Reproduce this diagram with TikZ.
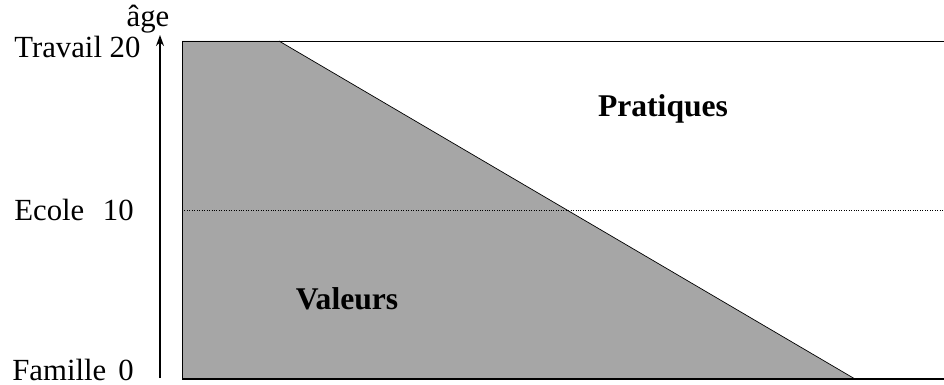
\documentclass[tikz,border=0pt]{standalone}
\usepackage{fontspec}
\setmainfont{Liberation Serif}
\usetikzlibrary{arrows.meta,positioning}
\definecolor{valgray}{HTML}{A6A6A6}

\begin{document}
\begin{tikzpicture}[
    x=0.02cm, y=-0.02cm,
    lbl/.style={inner sep=0pt, font=\fontsize{17.5}{20}\selectfont},
    zone/.style={inner sep=0pt, font=\fontsize{18}{20}\selectfont\bfseries},
    arr/.style={-{Stealth[length=2.2mm, width=1.6mm]}, thick}
  ]
    \useasboundingbox (0,0) rectangle (944,385);
    % zone grise
    \fill[valgray] (182,41) -- (279,41) -- (855,379) -- (182,379) -- cycle;
    \draw (182,379) -- (182,41) -- (944,41);
    \draw (279,41) -- (855,379);
    \draw[thick] (182,379) -- (944,379);
    \draw[densely dotted] (182,210) -- (944,210);
    % axe
    \coordinate (bas) at (160,378);
    \coordinate (haut) at (160,35);
    \draw[arr] (bas) -- (haut);
    \node[lbl, anchor=base] (age) at (148,27) {âge};
    % etiquettes
    \node[lbl, anchor=base west] (travail) at (14,58) {Travail 20};
    \node[lbl, anchor=base west] (ecole) at (14,220) {Ecole};
    \node[lbl, anchor=base east] (dix) at (134,220) {10};
    \node[lbl, anchor=base west] (famille) at (12,380) {Famille};
    \node[lbl, anchor=base east] (zero) at (134,380) {0};
    \node[zone] (prat) at (663,109) {Pratiques};
    \node[zone] (val) at (347,299) {Valeurs};
  \end{tikzpicture}
\end{document}
